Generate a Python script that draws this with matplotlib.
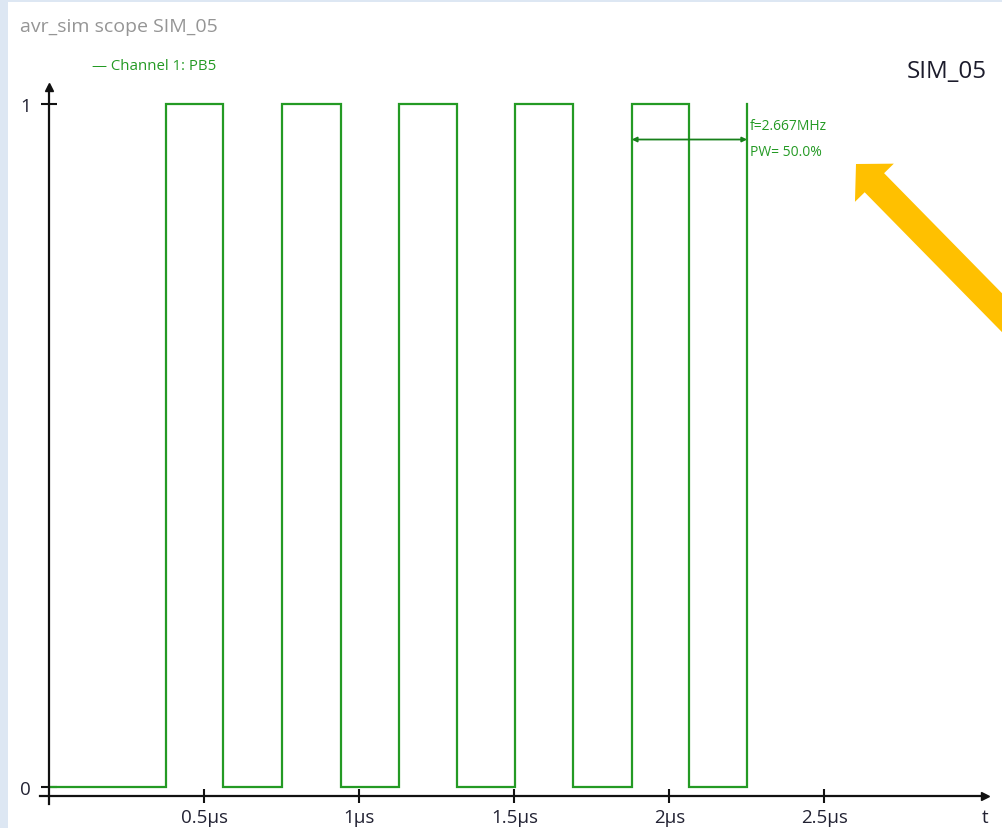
import matplotlib
matplotlib.use("Agg")
import matplotlib.pyplot as plt
from matplotlib.patches import Rectangle, FancyArrowPatch

# PB5 edge times in microseconds (level after each edge)
edge_times = [0.377, 0.561, 0.751, 0.941, 1.128, 1.315, 1.502, 1.689, 1.879, 2.063, 2.251]
edge_levels = [1, 0, 1, 0, 1, 0, 1, 0, 1, 0, 1]
t_start = 0.0

x_ticks = [0.5, 1.0, 1.5, 2.0, 2.5]
x_tick_labels = ["0.5μs", "1μs", "1.5μs", "2μs", "2.5μs"]
y_ticks = [0, 1]

# measurement between two rising edges
meas_t0 = 1.879
meas_t1 = 2.251
meas_level = 0.948
freq_text = "f=2.667MHz"
pw_text = "PW= 50.0%"

GREEN = "#249a24"
DARK_GREEN = "#17801a"
FONT = ["Open Sans", "DejaVu Sans"]

W, H = 1003, 829
fig = plt.figure(figsize=(W / 100, H / 100), dpi=100, facecolor="#dde7f3")
fig.patches.append(Rectangle((8 / W, 0), 1 - 8 / W, 1 - 3 / H,
                             transform=fig.transFigure, facecolor="white",
                             edgecolor="none", zorder=-5))

x0_px, xaxis_px, ytop_px, xend_px = 49.3, 797, 88, 985
ax = fig.add_axes([x0_px / W, (H - xaxis_px) / H, (xend_px - x0_px) / W,
                   (xaxis_px - ytop_px) / H])
ax.set_facecolor("none")
px_per_us = 310.0
px_per_unit = 683.0
ax.set_xlim(0, (xend_px - x0_px) / px_per_us)
ax.set_ylim(-(xaxis_px - 788) / px_per_unit, (788 - ytop_px) / px_per_unit)

for s in ["top", "right"]:
    ax.spines[s].set_visible(False)
for s in ["left", "bottom"]:
    ax.spines[s].set_linewidth(1.6)
    ax.spines[s].set_color("#111111")
ax.spines["bottom"].set_bounds(-0.03, ax.get_xlim()[1])
ax.spines["left"].set_bounds(-0.025, ax.get_ylim()[1])

# arrow heads at the axis ends
ax.plot(1, 0, ">", color="#111111", ms=6, transform=ax.transAxes, clip_on=False)
ax.plot(0, 1, "^", color="#111111", ms=6, transform=ax.transAxes, clip_on=False)

ax.set_xticks(x_ticks)
ax.set_xticklabels(x_tick_labels, fontfamily=FONT, fontsize=13.5, color="#222233")
ax.set_yticks(y_ticks)
ax.set_yticklabels([str(v) for v in y_ticks], fontfamily=FONT, fontsize=13.5,
                   color="#222233")
ax.tick_params(axis="x", direction="inout", length=10, width=1.5, pad=4,
               color="#111111")
ax.tick_params(axis="y", direction="inout", length=12, width=1.5, pad=7,
               color="#111111")
ax.annotate("t", xy=(1.0, 0), xycoords="axes fraction", xytext=(0, -15),
            textcoords="offset points", ha="center", va="center",
            fontfamily=FONT, fontsize=13.5, color="#222233", annotation_clip=False)

# build the step trace
ts = [t_start]
ys = [0]
for t, lvl in zip(edge_times, edge_levels):
    ts += [t, t]
    ys += [ys[-1], lvl]
ax.plot(ts, ys, color=GREEN, lw=1.6, solid_joinstyle="miter", clip_on=False)

# frequency / pulse width measurement
ax.annotate("", xy=(meas_t0, meas_level), xytext=(meas_t1, meas_level),
            arrowprops=dict(arrowstyle="<|-|>", color=DARK_GREEN, lw=1.3,
                            mutation_scale=7, shrinkA=0, shrinkB=0))
ax.text(meas_t1 + 0.01, meas_level + 0.02, freq_text, ha="left", va="center",
        fontfamily=FONT, fontsize=10, color=GREEN)
ax.text(meas_t1 + 0.01, meas_level - 0.017, pw_text, ha="left", va="center",
        fontfamily=FONT, fontsize=10, color=GREEN)

# window labels
fig.text(20 / W, 1 - 27 / H, "avr_sim scope SIM_05", ha="left", va="center",
         fontfamily=FONT, fontsize=14, color="#959595")
fig.text(92 / W, 1 - 67 / H, "— Channel 1: PB5", ha="left", va="center",
         fontfamily=FONT, fontsize=10.8, color=GREEN)
fig.text(987 / W, 1 - 72 / H, "SIM_05", ha="right", va="center",
         fontfamily=FONT, fontsize=17.4, color="#1c1c2c")

# pointer arrow
fig.add_artist(FancyArrowPatch(
    (1018, H - 330), (856, H - 165), transform=None,
    arrowstyle="simple,head_length=1.35,head_width=2.8,tail_width=1.4",
    mutation_scale=14, color="#ffc000", shrinkA=0, shrinkB=0, lw=0))

fig.savefig("out.png", dpi=100, facecolor=fig.get_facecolor())
